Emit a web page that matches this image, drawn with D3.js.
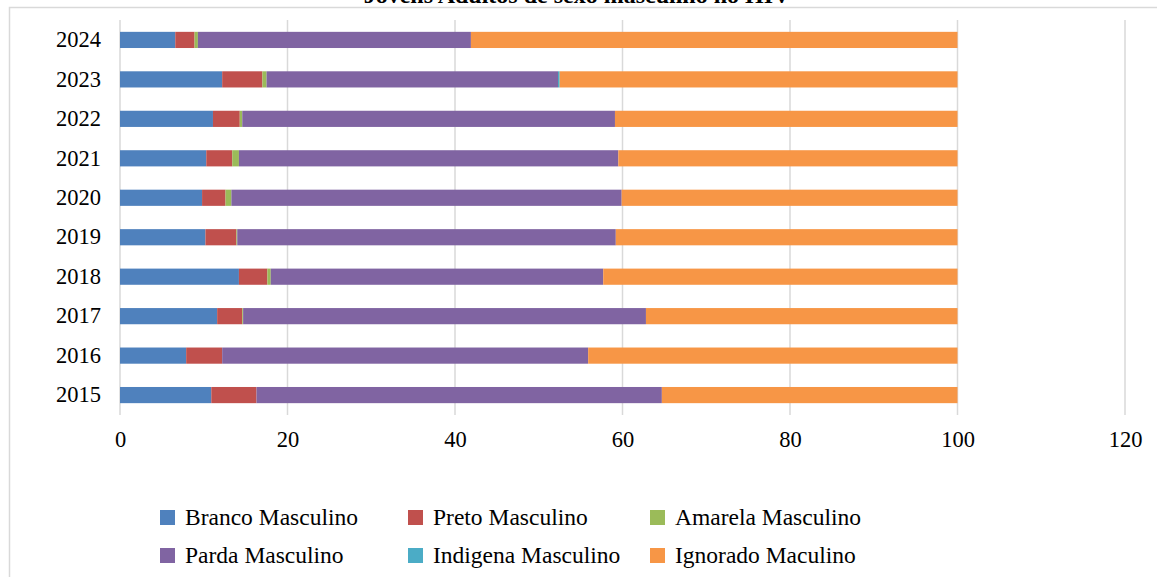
<!DOCTYPE html>
<html>
<head>
<meta charset="utf-8">
<script src="https://cdn.jsdelivr.net/npm/d3@7"></script>
<style>
  body { margin: 0; background: #fff; }
  svg { display: block; font-family: "Liberation Serif", "Times New Roman", serif; }
</style>
</head>
<body>
<svg id="chart"></svg>
<script>
const years = ['2024', '2023', '2022', '2021', '2020', '2019', '2018', '2017', '2016', '2015'];
const branco   = [6.6, 12.2, 11.1, 10.3, 9.8, 10.2, 14.2, 11.6, 7.9, 10.9];
const preto    = [2.3, 4.8, 3.2, 3.1, 2.8, 3.7, 3.4, 3.0, 4.3, 5.4];
const amarela  = [0.4, 0.5, 0.3, 0.8, 0.7, 0.1, 0.4, 0.1, 0, 0];
const parda    = [32.6, 34.8, 44.5, 45.3, 46.6, 45.2, 39.7, 48.1, 43.7, 48.4];
const indigena = [0, 0.2, 0, 0, 0, 0, 0, 0, 0, 0];
const ignorado = [58.1, 47.5, 40.9, 40.5, 40.1, 40.8, 42.3, 37.2, 44.1, 35.3];
const xTicks = [0, 20, 40, 60, 80, 100, 120];

const seriesNames = ['Branco Masculino', 'Preto Masculino', 'Amarela Masculino',
                     'Parda Masculino', 'Indigena Masculino', 'Ignorado Maculino'];
const seriesValues = [branco, preto, amarela, parda, indigena, ignorado];
const colors = ['#4F81BD', '#C0504D', '#9BBB59', '#8064A2', '#4BACC6', '#F79646'];

let width = 1157, height = 577;
let svg = d3.select('#chart').attr('width', width).attr('height', height);

// frame (cropped on right and bottom)
svg.append('path')
    .attr('d', `M9.5,${height + 2} V7.5 H${width + 2}`)
    .attr('fill', 'none')
    .attr('stroke', '#d9d9d9')
    .attr('stroke-width', 1.5);

// title, mostly cut off at the top like in the source image
svg.append('text')
    .attr('x', 577)
    .attr('y', 3)
    .attr('text-anchor', 'middle')
    .style('font-size', '24px')
    .style('font-weight', 'bold')
    .text('Jovens Adultos de sexo masculino no HIV');

let xScale = d3.scaleLinear().domain([0, 120]).range([120, 1125]);
let yScale = d3.scaleBand().domain(years).range([20, 415]).paddingInner(0.59).paddingOuter(0.3);

// gridlines
svg.append('g')
    .selectAll('line')
    .data(xTicks)
    .enter()
    .append('line')
    .attr('x1', d => xScale(d))
    .attr('x2', d => xScale(d))
    .attr('y1', 20)
    .attr('y2', 415)
    .attr('stroke', '#d9d9d9')
    .attr('stroke-width', 1.5);

let rows = years.map((y, i) => {
  let obj = { year: y };
  seriesNames.forEach((s, j) => obj[s] = seriesValues[j][i]);
  return obj;
});
let stacked = d3.stack().keys(seriesNames)(rows);

svg.append('g')
    .selectAll('g')
    .data(stacked)
    .enter()
    .append('g')
    .attr('fill', (d, i) => colors[i])
    .selectAll('rect')
    .data(d => d)
    .enter()
    .append('rect')
    .attr('x', d => xScale(d[0]))
    .attr('y', d => yScale(d.data.year))
    .attr('width', d => xScale(d[1]) - xScale(d[0]))
    .attr('height', yScale.bandwidth());

// y labels
let yAxis = d3.axisLeft(yScale).tickSize(0).tickPadding(0);
let yg = svg.append('g')
    .attr('transform', 'translate(101,0)')
    .call(yAxis);
yg.select('.domain').remove();
yg.selectAll('text')
    .style('font-size', '22.5px')
    .style('font-family', '"Liberation Serif", serif')
    .attr('fill', '#000');

// x labels
let xAxis = d3.axisBottom(xScale).tickValues(xTicks).tickSize(0).tickPadding(0);
let xg = svg.append('g')
    .attr('transform', 'translate(0,431)')
    .call(xAxis);
xg.select('.domain').remove();
xg.selectAll('text')
    .style('font-size', '22.5px')
    .style('font-family', '"Liberation Serif", serif')
    .attr('fill', '#000');

// legend
let legendX = [160, 408, 650];
let legendY = [517, 555];
let legend = svg.append('g')
    .selectAll('g')
    .data(seriesNames)
    .enter()
    .append('g')
    .attr('transform', (d, i) => `translate(${legendX[i % 3]},${legendY[Math.floor(i / 3)]})`);

legend.append('rect')
    .attr('x', 0)
    .attr('y', -7)
    .attr('width', 15)
    .attr('height', 15)
    .attr('fill', (d, i) => colors[i]);

legend.append('text')
    .attr('x', 25)
    .attr('y', 8)
    .style('font-size', '23.5px')
    .text(d => d);
</script>
</body>
</html>
